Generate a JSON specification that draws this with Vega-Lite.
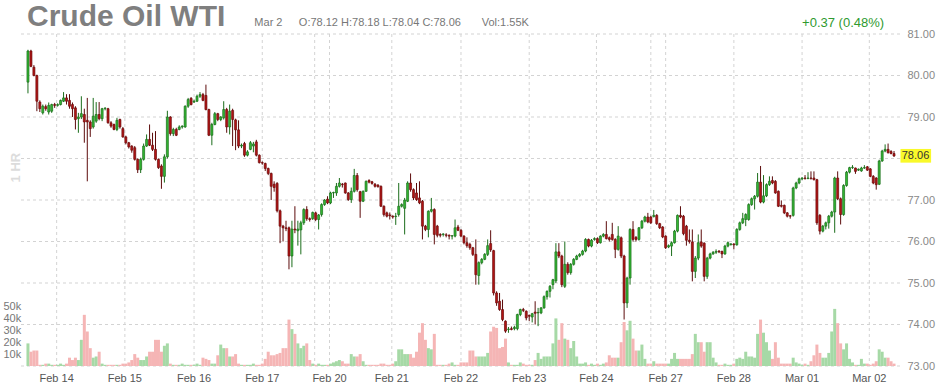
{
"$schema":"https://vega.github.io/schema/vega-lite/v6.json",
"width":880,"height":332,
"autosize":{"type":"none"},
"padding":{"left":20,"top":34,"right":38,"bottom":22},
"background":"#ffffff",
"config":{"view":{"stroke":null},"font":"Liberation Sans","axis":{"domain":false,"ticks":false,"grid":false,"title":null,"labelFont":"Liberation Sans"}},
"datasets":{
"days":[{"d":10.67,"t":"Feb 14"},{"d":33.67,"t":"Feb 15"},{"d":57,"t":"Feb 16"},{"d":80,"t":"Feb 17"},{"d":97.67,"t":""},{"d":102.67,"t":"Feb 20"},{"d":123.67,"t":"Feb 21"},{"d":147,"t":"Feb 22"},{"d":170,"t":"Feb 23"},{"d":192.67,"t":"Feb 24"},{"d":211,"t":""},{"d":216,"t":"Feb 27"},{"d":239,"t":"Feb 28"},{"d":262,"t":"Mar 01"},{"d":284.67,"t":"Mar 02"}],
"levels":[{"p":73},{"p":74},{"p":75},{"p":76},{"p":77},{"p":78},{"p":79},{"p":80},{"p":81}],
"ohlc":[
{"i":1,"o":79.84,"h":80.62,"l":79.57,"c":80.59,"v":19},
{"i":2,"o":80.59,"h":80.62,"l":80.2,"c":80.22,"v":12},
{"i":3,"o":80.2,"h":80.25,"l":79.98,"c":80.0,"v":13},
{"i":4,"o":80.0,"h":80.02,"l":79.14,"c":79.38,"v":13},
{"i":5,"o":79.36,"h":79.4,"l":79.12,"c":79.2,"v":1},
{"i":6,"o":79.1,"h":79.3,"l":79.06,"c":79.26,"v":1},
{"i":7,"o":79.25,"h":79.3,"l":79.15,"c":79.2,"v":2},
{"i":8,"o":79.12,"h":79.35,"l":79.06,"c":79.28,"v":2},
{"i":9,"o":79.14,"h":79.32,"l":79.1,"c":79.3,"v":1},
{"i":10,"o":79.3,"h":79.34,"l":79.22,"c":79.28,"v":1},
{"i":11,"o":79.28,"h":79.33,"l":79.25,"c":79.3,"v":1},
{"i":12,"o":79.3,"h":79.42,"l":79.28,"c":79.4,"v":2},
{"i":13,"o":79.38,"h":79.6,"l":79.36,"c":79.46,"v":1},
{"i":14,"o":79.46,"h":79.55,"l":79.3,"c":79.38,"v":2},
{"i":15,"o":79.4,"h":79.55,"l":79.2,"c":79.26,"v":7},
{"i":16,"o":79.3,"h":79.35,"l":79.0,"c":79.2,"v":5},
{"i":17,"o":79.22,"h":79.26,"l":78.7,"c":78.94,"v":7},
{"i":18,"o":78.96,"h":79.1,"l":78.62,"c":79.0,"v":5},
{"i":19,"o":79.0,"h":79.5,"l":78.95,"c":79.08,"v":22},
{"i":20,"o":79.06,"h":79.2,"l":78.38,"c":78.88,"v":43},
{"i":21,"o":78.92,"h":79.46,"l":77.45,"c":78.88,"v":29},
{"i":22,"o":78.88,"h":78.92,"l":78.52,"c":78.72,"v":15},
{"i":23,"o":78.76,"h":79.46,"l":78.72,"c":79.02,"v":7},
{"i":24,"o":78.9,"h":79.36,"l":78.86,"c":79.06,"v":8},
{"i":25,"o":79.06,"h":79.36,"l":78.92,"c":78.96,"v":12},
{"i":26,"o":78.96,"h":79.22,"l":78.9,"c":79.2,"v":2},
{"i":27,"o":79.2,"h":79.24,"l":79.16,"c":79.21,"v":1},
{"i":28,"o":79.2,"h":79.22,"l":78.84,"c":78.86,"v":1},
{"i":29,"o":78.86,"h":78.9,"l":78.74,"c":78.78,"v":1},
{"i":30,"o":78.82,"h":78.84,"l":78.68,"c":78.7,"v":1},
{"i":31,"o":78.7,"h":78.98,"l":78.66,"c":78.92,"v":1},
{"i":32,"o":78.94,"h":78.96,"l":78.72,"c":78.76,"v":1},
{"i":33,"o":78.72,"h":78.76,"l":78.5,"c":78.52,"v":2},
{"i":34,"o":78.52,"h":78.55,"l":78.34,"c":78.38,"v":2},
{"i":35,"o":78.38,"h":78.4,"l":78.24,"c":78.28,"v":3},
{"i":36,"o":78.3,"h":78.32,"l":78.14,"c":78.2,"v":5},
{"i":37,"o":78.26,"h":78.3,"l":77.95,"c":77.98,"v":10},
{"i":38,"o":77.98,"h":78.0,"l":77.65,"c":77.73,"v":7},
{"i":39,"o":77.73,"h":78.02,"l":77.65,"c":77.98,"v":5},
{"i":40,"o":77.98,"h":78.36,"l":77.95,"c":78.3,"v":5},
{"i":41,"o":78.3,"h":78.58,"l":78.28,"c":78.46,"v":8},
{"i":42,"o":78.46,"h":78.82,"l":78.3,"c":78.32,"v":12},
{"i":43,"o":78.32,"h":78.62,"l":78.18,"c":78.22,"v":12},
{"i":44,"o":78.22,"h":78.66,"l":77.95,"c":77.98,"v":22},
{"i":45,"o":77.98,"h":78.0,"l":77.75,"c":77.78,"v":22},
{"i":46,"o":77.82,"h":77.86,"l":77.27,"c":77.57,"v":12},
{"i":47,"o":77.57,"h":78.1,"l":77.42,"c":78.04,"v":17},
{"i":48,"o":78.04,"h":79.15,"l":78.0,"c":79.0,"v":19},
{"i":49,"o":79.0,"h":79.02,"l":78.55,"c":78.6,"v":2},
{"i":50,"o":78.6,"h":78.74,"l":78.54,"c":78.7,"v":1},
{"i":51,"o":78.7,"h":78.74,"l":78.54,"c":78.56,"v":1},
{"i":52,"o":78.7,"h":78.8,"l":78.68,"c":78.76,"v":1},
{"i":53,"o":78.76,"h":78.8,"l":78.72,"c":78.78,"v":2},
{"i":54,"o":78.76,"h":79.28,"l":78.74,"c":79.26,"v":1},
{"i":55,"o":79.26,"h":79.46,"l":79.22,"c":79.42,"v":1},
{"i":56,"o":79.45,"h":79.48,"l":79.28,"c":79.3,"v":1},
{"i":57,"o":79.36,"h":79.42,"l":79.34,"c":79.38,"v":1},
{"i":58,"o":79.38,"h":79.54,"l":79.36,"c":79.5,"v":2},
{"i":59,"o":79.5,"h":79.6,"l":79.46,"c":79.54,"v":1},
{"i":60,"o":79.54,"h":79.58,"l":79.38,"c":79.4,"v":7},
{"i":61,"o":79.52,"h":79.78,"l":79.16,"c":79.18,"v":6},
{"i":62,"o":79.18,"h":79.2,"l":78.54,"c":78.56,"v":5},
{"i":63,"o":78.56,"h":78.86,"l":78.32,"c":78.82,"v":2},
{"i":64,"o":78.82,"h":79.12,"l":78.8,"c":79.08,"v":2},
{"i":65,"o":79.08,"h":79.1,"l":78.9,"c":78.94,"v":9},
{"i":66,"o":78.94,"h":79.02,"l":78.9,"c":79.0,"v":18},
{"i":67,"o":78.98,"h":79.38,"l":78.94,"c":79.18,"v":15},
{"i":68,"o":79.18,"h":79.22,"l":78.62,"c":78.76,"v":15},
{"i":69,"o":78.76,"h":79.3,"l":78.58,"c":79.14,"v":8},
{"i":70,"o":79.16,"h":79.2,"l":78.3,"c":78.94,"v":8},
{"i":71,"o":78.93,"h":78.96,"l":78.2,"c":78.69,"v":10},
{"i":72,"o":78.69,"h":78.92,"l":78.25,"c":78.3,"v":2},
{"i":73,"o":78.3,"h":78.36,"l":78.25,"c":78.32,"v":1},
{"i":74,"o":78.36,"h":78.4,"l":78.04,"c":78.08,"v":1},
{"i":75,"o":78.08,"h":78.2,"l":78.05,"c":78.16,"v":1},
{"i":76,"o":78.22,"h":78.42,"l":78.2,"c":78.38,"v":1},
{"i":77,"o":78.3,"h":78.4,"l":78.15,"c":78.35,"v":2},
{"i":78,"o":78.4,"h":78.45,"l":78.05,"c":78.08,"v":1},
{"i":79,"o":78.08,"h":78.1,"l":77.88,"c":77.9,"v":1},
{"i":80,"o":77.9,"h":77.93,"l":77.85,"c":77.89,"v":2},
{"i":81,"o":77.88,"h":77.9,"l":77.7,"c":77.76,"v":6},
{"i":82,"o":77.76,"h":77.78,"l":77.6,"c":77.64,"v":12},
{"i":83,"o":77.64,"h":77.66,"l":77.0,"c":77.33,"v":9},
{"i":84,"o":77.38,"h":77.45,"l":77.2,"c":77.3,"v":9},
{"i":85,"o":77.4,"h":77.43,"l":76.7,"c":76.74,"v":10},
{"i":86,"o":76.74,"h":76.77,"l":75.96,"c":76.37,"v":11},
{"i":87,"o":76.37,"h":76.4,"l":76.0,"c":76.33,"v":15},
{"i":88,"o":76.33,"h":76.5,"l":76.25,"c":76.31,"v":15},
{"i":89,"o":76.33,"h":76.36,"l":75.33,"c":75.65,"v":39},
{"i":90,"o":75.65,"h":76.5,"l":75.38,"c":76.3,"v":31},
{"i":91,"o":76.3,"h":76.85,"l":76.2,"c":76.28,"v":27},
{"i":92,"o":76.26,"h":76.5,"l":75.9,"c":76.3,"v":19},
{"i":93,"o":76.28,"h":76.5,"l":75.69,"c":76.45,"v":15},
{"i":94,"o":76.45,"h":76.8,"l":76.4,"c":76.77,"v":17},
{"i":95,"o":76.77,"h":76.85,"l":76.5,"c":76.55,"v":19},
{"i":96,"o":76.55,"h":76.58,"l":76.48,"c":76.53,"v":5},
{"i":97,"o":76.55,"h":76.72,"l":76.52,"c":76.7,"v":2},
{"i":98,"o":76.69,"h":76.72,"l":76.49,"c":76.53,"v":1},
{"i":99,"o":76.53,"h":76.66,"l":76.29,"c":76.64,"v":2},
{"i":100,"o":76.65,"h":76.92,"l":76.6,"c":76.89,"v":1},
{"i":101,"o":76.89,"h":77.02,"l":76.86,"c":77.0,"v":1},
{"i":102,"o":77.02,"h":77.09,"l":76.9,"c":76.93,"v":1},
{"i":103,"o":76.93,"h":77.2,"l":76.9,"c":77.17,"v":2},
{"i":104,"o":77.17,"h":77.2,"l":77.05,"c":77.18,"v":3},
{"i":105,"o":77.17,"h":77.41,"l":77.1,"c":77.33,"v":4},
{"i":106,"o":77.33,"h":77.53,"l":77.3,"c":77.41,"v":5},
{"i":107,"o":77.38,"h":77.41,"l":77.3,"c":77.37,"v":4},
{"i":108,"o":77.41,"h":77.42,"l":77.15,"c":77.17,"v":2},
{"i":109,"o":77.17,"h":77.19,"l":76.98,"c":77.01,"v":2},
{"i":110,"o":77.01,"h":77.3,"l":76.93,"c":77.21,"v":10},
{"i":111,"o":77.21,"h":77.75,"l":77.18,"c":77.59,"v":8},
{"i":112,"o":77.59,"h":77.65,"l":77.2,"c":77.25,"v":8},
{"i":113,"o":77.2,"h":77.22,"l":76.57,"c":76.97,"v":10},
{"i":114,"o":76.97,"h":77.23,"l":76.95,"c":77.21,"v":4},
{"i":115,"o":77.21,"h":77.47,"l":77.2,"c":77.45,"v":1},
{"i":116,"o":77.47,"h":77.5,"l":77.4,"c":77.43,"v":1},
{"i":117,"o":77.44,"h":77.46,"l":77.37,"c":77.4,"v":1},
{"i":118,"o":77.38,"h":77.41,"l":77.3,"c":77.33,"v":1},
{"i":119,"o":77.36,"h":77.38,"l":77.3,"c":77.32,"v":1},
{"i":120,"o":77.33,"h":77.35,"l":76.83,"c":76.85,"v":2},
{"i":121,"o":76.85,"h":76.87,"l":76.6,"c":76.65,"v":2},
{"i":122,"o":76.69,"h":76.72,"l":76.58,"c":76.61,"v":1},
{"i":123,"o":76.64,"h":76.7,"l":76.53,"c":76.62,"v":1},
{"i":124,"o":76.61,"h":76.63,"l":76.55,"c":76.59,"v":2},
{"i":125,"o":76.6,"h":76.69,"l":76.4,"c":76.61,"v":4},
{"i":126,"o":76.65,"h":77.41,"l":76.6,"c":76.85,"v":14},
{"i":127,"o":76.85,"h":76.92,"l":76.82,"c":76.89,"v":14},
{"i":128,"o":76.8,"h":77.05,"l":76.17,"c":77.0,"v":10},
{"i":129,"o":76.97,"h":77.45,"l":76.95,"c":77.41,"v":10},
{"i":130,"o":77.41,"h":77.64,"l":77.2,"c":77.25,"v":10},
{"i":131,"o":77.25,"h":77.28,"l":77.0,"c":77.05,"v":7},
{"i":132,"o":77.17,"h":77.41,"l":76.98,"c":77.01,"v":12},
{"i":133,"o":77.05,"h":77.45,"l":76.9,"c":76.93,"v":28},
{"i":134,"o":76.97,"h":77.0,"l":76.05,"c":76.37,"v":36},
{"i":135,"o":76.37,"h":76.4,"l":76.25,"c":76.29,"v":22},
{"i":136,"o":76.29,"h":76.75,"l":76.1,"c":76.73,"v":15},
{"i":137,"o":76.73,"h":77.05,"l":76.7,"c":76.77,"v":14},
{"i":138,"o":76.77,"h":76.8,"l":75.93,"c":76.17,"v":27},
{"i":139,"o":76.37,"h":76.4,"l":76.1,"c":76.15,"v":1},
{"i":140,"o":76.17,"h":76.2,"l":76.1,"c":76.15,"v":1},
{"i":141,"o":76.17,"h":76.2,"l":76.12,"c":76.18,"v":1},
{"i":142,"o":76.16,"h":76.2,"l":76.1,"c":76.15,"v":1},
{"i":143,"o":76.15,"h":76.17,"l":76.05,"c":76.13,"v":2},
{"i":144,"o":76.13,"h":76.15,"l":76.05,"c":76.14,"v":3},
{"i":145,"o":76.13,"h":76.53,"l":76.1,"c":76.33,"v":1},
{"i":146,"o":76.35,"h":76.4,"l":76.25,"c":76.27,"v":1},
{"i":147,"o":76.27,"h":76.3,"l":76.1,"c":76.13,"v":3},
{"i":148,"o":76.13,"h":76.15,"l":75.93,"c":75.97,"v":3},
{"i":149,"o":75.97,"h":76.1,"l":75.85,"c":75.9,"v":3},
{"i":150,"o":75.93,"h":75.97,"l":75.8,"c":75.85,"v":13},
{"i":151,"o":75.85,"h":75.87,"l":75.65,"c":75.69,"v":13},
{"i":152,"o":75.69,"h":76.05,"l":74.96,"c":75.2,"v":8},
{"i":153,"o":75.18,"h":75.52,"l":74.96,"c":75.49,"v":8},
{"i":154,"o":75.49,"h":75.6,"l":75.45,"c":75.57,"v":8},
{"i":155,"o":75.57,"h":75.72,"l":75.55,"c":75.69,"v":8},
{"i":156,"o":75.69,"h":76.05,"l":75.65,"c":75.9,"v":11},
{"i":157,"o":75.95,"h":76.27,"l":75.75,"c":75.8,"v":29},
{"i":158,"o":75.78,"h":75.8,"l":74.7,"c":74.76,"v":33},
{"i":159,"o":74.76,"h":74.8,"l":74.45,"c":74.52,"v":32},
{"i":160,"o":74.56,"h":74.76,"l":74.33,"c":74.36,"v":15},
{"i":161,"o":74.36,"h":74.6,"l":74.08,"c":74.12,"v":16},
{"i":162,"o":74.08,"h":74.1,"l":73.8,"c":73.84,"v":23},
{"i":163,"o":73.88,"h":73.94,"l":73.8,"c":73.89,"v":3},
{"i":164,"o":73.9,"h":73.95,"l":73.86,"c":73.88,"v":1},
{"i":165,"o":73.9,"h":73.97,"l":73.86,"c":73.93,"v":1},
{"i":166,"o":73.9,"h":74.26,"l":73.86,"c":74.24,"v":1},
{"i":167,"o":74.24,"h":74.38,"l":74.2,"c":74.36,"v":3},
{"i":168,"o":74.36,"h":74.4,"l":74.3,"c":74.34,"v":2},
{"i":169,"o":74.32,"h":74.34,"l":74.1,"c":74.16,"v":1},
{"i":170,"o":74.22,"h":74.24,"l":74.08,"c":74.2,"v":1},
{"i":171,"o":74.18,"h":74.28,"l":74.05,"c":74.26,"v":1},
{"i":172,"o":74.3,"h":74.56,"l":74.0,"c":74.27,"v":5},
{"i":173,"o":74.28,"h":74.4,"l":73.96,"c":74.29,"v":11},
{"i":174,"o":74.28,"h":74.42,"l":74.25,"c":74.4,"v":6},
{"i":175,"o":74.4,"h":74.7,"l":74.38,"c":74.67,"v":8},
{"i":176,"o":74.67,"h":74.82,"l":74.6,"c":74.8,"v":8},
{"i":177,"o":74.8,"h":74.95,"l":74.65,"c":74.92,"v":8},
{"i":178,"o":74.96,"h":75.1,"l":74.85,"c":75.08,"v":19},
{"i":179,"o":75.05,"h":75.96,"l":75.0,"c":75.75,"v":40},
{"i":180,"o":75.75,"h":75.96,"l":75.6,"c":75.65,"v":22},
{"i":181,"o":75.65,"h":75.68,"l":74.9,"c":74.96,"v":36},
{"i":182,"o":74.92,"h":76.0,"l":74.88,"c":75.45,"v":23},
{"i":183,"o":75.45,"h":75.5,"l":75.2,"c":75.25,"v":22},
{"i":184,"o":75.25,"h":75.48,"l":75.2,"c":75.45,"v":15},
{"i":185,"o":75.45,"h":75.6,"l":75.42,"c":75.57,"v":21},
{"i":186,"o":75.57,"h":75.68,"l":75.55,"c":75.65,"v":8},
{"i":187,"o":75.65,"h":75.72,"l":75.62,"c":75.69,"v":2},
{"i":188,"o":75.69,"h":75.8,"l":75.66,"c":75.77,"v":2},
{"i":189,"o":75.77,"h":76.08,"l":75.74,"c":76.05,"v":3},
{"i":190,"o":76.05,"h":76.07,"l":75.86,"c":75.89,"v":1},
{"i":191,"o":75.89,"h":76.06,"l":75.86,"c":76.03,"v":2},
{"i":192,"o":76.05,"h":76.1,"l":76.02,"c":76.07,"v":1},
{"i":193,"o":76.07,"h":76.1,"l":75.94,"c":75.97,"v":2},
{"i":194,"o":75.97,"h":76.15,"l":75.95,"c":76.13,"v":1},
{"i":195,"o":76.13,"h":76.2,"l":76.1,"c":76.17,"v":2},
{"i":196,"o":76.17,"h":76.49,"l":76.05,"c":76.07,"v":3},
{"i":197,"o":76.09,"h":76.12,"l":76.0,"c":76.05,"v":9},
{"i":198,"o":76.17,"h":76.45,"l":76.02,"c":76.05,"v":7},
{"i":199,"o":76.05,"h":76.08,"l":75.6,"c":75.81,"v":7},
{"i":200,"o":75.81,"h":76.37,"l":75.78,"c":76.13,"v":7},
{"i":201,"o":76.09,"h":76.12,"l":75.6,"c":75.65,"v":20},
{"i":202,"o":75.65,"h":75.68,"l":74.12,"c":74.52,"v":37},
{"i":203,"o":74.52,"h":75.15,"l":74.4,"c":75.12,"v":30},
{"i":204,"o":75.12,"h":76.32,"l":74.96,"c":76.29,"v":38},
{"i":205,"o":76.29,"h":76.49,"l":76.0,"c":76.05,"v":23},
{"i":206,"o":76.1,"h":76.13,"l":76.0,"c":76.05,"v":13},
{"i":207,"o":76.05,"h":76.35,"l":76.02,"c":76.33,"v":13},
{"i":208,"o":76.33,"h":76.52,"l":76.3,"c":76.49,"v":18},
{"i":209,"o":76.49,"h":76.62,"l":76.46,"c":76.59,"v":6},
{"i":210,"o":76.59,"h":76.69,"l":76.44,"c":76.47,"v":2},
{"i":211,"o":76.59,"h":76.62,"l":76.42,"c":76.45,"v":2},
{"i":212,"o":76.6,"h":76.76,"l":76.58,"c":76.63,"v":4},
{"i":213,"o":76.63,"h":76.66,"l":76.4,"c":76.43,"v":2},
{"i":214,"o":76.43,"h":76.45,"l":76.3,"c":76.33,"v":2},
{"i":215,"o":76.35,"h":76.37,"l":76.08,"c":76.11,"v":2},
{"i":216,"o":76.13,"h":76.15,"l":75.82,"c":75.85,"v":2},
{"i":217,"o":75.87,"h":75.93,"l":75.84,"c":75.9,"v":2},
{"i":218,"o":75.89,"h":76.0,"l":75.65,"c":75.97,"v":6},
{"i":219,"o":75.97,"h":76.28,"l":75.95,"c":76.25,"v":11},
{"i":220,"o":76.25,"h":76.65,"l":76.22,"c":76.63,"v":6},
{"i":221,"o":76.63,"h":76.85,"l":76.56,"c":76.59,"v":6},
{"i":222,"o":76.61,"h":76.64,"l":76.15,"c":76.19,"v":6},
{"i":223,"o":76.37,"h":76.4,"l":75.9,"c":76.03,"v":6},
{"i":224,"o":76.03,"h":76.29,"l":75.95,"c":76.0,"v":6},
{"i":225,"o":75.99,"h":76.29,"l":75.04,"c":75.28,"v":10},
{"i":226,"o":75.28,"h":75.65,"l":75.12,"c":75.6,"v":27},
{"i":227,"o":75.6,"h":76.17,"l":75.55,"c":75.97,"v":20},
{"i":228,"o":75.99,"h":76.29,"l":75.85,"c":75.89,"v":20},
{"i":229,"o":75.96,"h":75.98,"l":75.04,"c":75.16,"v":12},
{"i":230,"o":75.16,"h":75.63,"l":75.1,"c":75.6,"v":20},
{"i":231,"o":75.6,"h":75.73,"l":75.57,"c":75.7,"v":20},
{"i":232,"o":75.7,"h":75.77,"l":75.68,"c":75.74,"v":7},
{"i":233,"o":75.74,"h":75.81,"l":75.7,"c":75.76,"v":3},
{"i":234,"o":75.77,"h":75.79,"l":75.72,"c":75.75,"v":1},
{"i":235,"o":75.76,"h":75.78,"l":75.6,"c":75.7,"v":1},
{"i":236,"o":75.7,"h":75.92,"l":75.68,"c":75.89,"v":2},
{"i":237,"o":75.89,"h":76.0,"l":75.86,"c":75.97,"v":1},
{"i":238,"o":75.93,"h":75.96,"l":75.9,"c":75.94,"v":1},
{"i":239,"o":75.94,"h":75.96,"l":75.81,"c":75.92,"v":2},
{"i":240,"o":75.92,"h":76.32,"l":75.9,"c":76.29,"v":6},
{"i":241,"o":76.29,"h":76.48,"l":76.26,"c":76.45,"v":7},
{"i":242,"o":76.45,"h":76.69,"l":76.42,"c":76.55,"v":6},
{"i":243,"o":76.53,"h":76.68,"l":76.37,"c":76.65,"v":12},
{"i":244,"o":76.53,"h":76.92,"l":76.5,"c":76.89,"v":8},
{"i":245,"o":76.89,"h":77.06,"l":76.86,"c":77.03,"v":8},
{"i":246,"o":77.03,"h":77.12,"l":76.77,"c":77.09,"v":7},
{"i":247,"o":77.09,"h":77.65,"l":77.06,"c":77.43,"v":27},
{"i":248,"o":77.43,"h":77.82,"l":76.92,"c":76.95,"v":39},
{"i":249,"o":76.95,"h":77.6,"l":76.92,"c":77.1,"v":28},
{"i":250,"o":77.1,"h":77.4,"l":77.07,"c":77.37,"v":20},
{"i":251,"o":77.37,"h":77.57,"l":77.34,"c":77.45,"v":13},
{"i":252,"o":77.47,"h":77.57,"l":77.38,"c":77.41,"v":6},
{"i":253,"o":77.45,"h":77.48,"l":77.15,"c":77.17,"v":20},
{"i":254,"o":77.21,"h":77.23,"l":76.83,"c":76.85,"v":7},
{"i":255,"o":76.87,"h":76.99,"l":76.82,"c":76.85,"v":2},
{"i":256,"o":76.87,"h":76.89,"l":76.66,"c":76.69,"v":2},
{"i":257,"o":76.69,"h":76.71,"l":76.58,"c":76.61,"v":2},
{"i":258,"o":76.62,"h":76.64,"l":76.55,"c":76.61,"v":2},
{"i":259,"o":76.63,"h":77.32,"l":76.6,"c":77.29,"v":7},
{"i":260,"o":77.29,"h":77.44,"l":77.26,"c":77.41,"v":3},
{"i":261,"o":77.41,"h":77.54,"l":77.38,"c":77.51,"v":2},
{"i":262,"o":77.51,"h":77.55,"l":77.48,"c":77.53,"v":1},
{"i":263,"o":77.53,"h":77.6,"l":77.49,"c":77.52,"v":2},
{"i":264,"o":77.52,"h":77.67,"l":77.5,"c":77.53,"v":1},
{"i":265,"o":77.53,"h":77.69,"l":77.49,"c":77.52,"v":4},
{"i":266,"o":77.53,"h":77.69,"l":77.47,"c":77.49,"v":9},
{"i":267,"o":77.49,"h":77.51,"l":76.4,"c":76.45,"v":18},
{"i":268,"o":76.63,"h":76.66,"l":76.17,"c":76.25,"v":11},
{"i":269,"o":76.25,"h":76.4,"l":76.22,"c":76.37,"v":7},
{"i":270,"o":76.37,"h":76.48,"l":76.29,"c":76.45,"v":7},
{"i":271,"o":76.45,"h":76.64,"l":76.31,"c":76.61,"v":11},
{"i":272,"o":76.61,"h":76.74,"l":76.58,"c":76.71,"v":29},
{"i":273,"o":76.71,"h":77.56,"l":76.21,"c":77.53,"v":48},
{"i":274,"o":77.53,"h":77.69,"l":77.0,"c":77.03,"v":36},
{"i":275,"o":77.03,"h":77.06,"l":76.41,"c":76.65,"v":19},
{"i":276,"o":76.65,"h":77.38,"l":76.62,"c":77.35,"v":14},
{"i":277,"o":77.35,"h":77.7,"l":77.32,"c":77.67,"v":19},
{"i":278,"o":77.67,"h":77.8,"l":77.64,"c":77.78,"v":6},
{"i":279,"o":77.78,"h":77.84,"l":77.75,"c":77.79,"v":3},
{"i":280,"o":77.77,"h":77.78,"l":77.63,"c":77.69,"v":1},
{"i":281,"o":77.72,"h":77.76,"l":77.7,"c":77.74,"v":1},
{"i":282,"o":77.7,"h":77.8,"l":77.68,"c":77.77,"v":6},
{"i":283,"o":77.77,"h":77.84,"l":77.75,"c":77.78,"v":2},
{"i":284,"o":77.8,"h":77.82,"l":77.7,"c":77.72,"v":2},
{"i":285,"o":77.75,"h":77.77,"l":77.55,"c":77.57,"v":1},
{"i":286,"o":77.57,"h":77.6,"l":77.38,"c":77.41,"v":2},
{"i":287,"o":77.53,"h":77.55,"l":77.25,"c":77.37,"v":4},
{"i":288,"o":77.38,"h":77.97,"l":77.36,"c":77.94,"v":14},
{"i":289,"o":77.94,"h":78.21,"l":77.92,"c":78.18,"v":12},
{"i":290,"o":78.18,"h":78.34,"l":78.15,"c":78.22,"v":7},
{"i":291,"o":78.22,"h":78.36,"l":78.12,"c":78.14,"v":7},
{"i":292,"o":78.17,"h":78.2,"l":78.1,"c":78.12,"v":4},
{"i":293,"o":78.12,"h":78.18,"l":78.04,"c":78.06,"v":2}
]},
"layer":[
{"data":{"name":"days"},
 "mark":{"type":"rule","color":"#d3d3d3","strokeWidth":1,"strokeDash":[3,3]},
 "encoding":{
  "x":{"field":"d","type":"quantitative","scale":{"domain":[0,293.33],"nice":false,"zero":false},"axis":null}
 }},
{"data":{"name":"levels"},
 "mark":{"type":"rule","color":"#d3d3d3","strokeWidth":1,"strokeDash":[3,3]},
 "encoding":{
  "y":{"field":"p","type":"quantitative","scale":{"domain":[73,81],"nice":false,"zero":false},
   "axis":{"orient":"right","values":[73,74,75,76,77,79,80,81],"format":".2f","labelAlign":"left","labelPadding":7,"labelFontSize":11,"labelColor":"#888888","labelBaseline":"middle"}}
 }},
{"data":{"name":"ohlc"},
 "mark":{"type":"bar","width":3},
 "encoding":{
  "x":{"field":"i","type":"quantitative","scale":{"domain":[0,293.33],"nice":false,"zero":false},"axis":null},
  "y":{"field":"v","type":"quantitative","scale":{"domain":[0,279],"nice":false},
   "axis":{"orient":"left","values":[10,20,30,40,50],"labelExpr":"datum.value + 'k'","labelAlign":"left","labelPadding":17,"labelFontSize":11,"labelColor":"#777777","labelOverlap":false}},
  "color":{"condition":{"test":"datum.c >= datum.o","value":"#a6d9a6"},"value":"#f5b5b5"}
 }},
{"data":{"name":"ohlc"},
 "layer":[
 {"mark":{"type":"rule","strokeWidth":1},
  "encoding":{
   "x":{"field":"i","type":"quantitative","scale":{"domain":[0,293.33],"nice":false,"zero":false},"axis":null},
   "y":{"field":"l","type":"quantitative","scale":{"domain":[73,81],"nice":false,"zero":false},"axis":null},
   "y2":{"field":"h"},
   "color":{"condition":{"test":"datum.c >= datum.o","value":"#1b6d1b"},"value":"#5c0b0b"}
  }},
 {"mark":{"type":"bar","width":2,"strokeWidth":0.7},
  "encoding":{
   "x":{"field":"i","type":"quantitative","scale":{"domain":[0,293.33],"nice":false,"zero":false},"axis":null},
   "y":{"field":"o","type":"quantitative","scale":{"domain":[73,81],"nice":false,"zero":false},"axis":null},
   "y2":{"field":"c"},
   "fill":{"condition":{"test":"datum.c >= datum.o","value":"#33b833"},"value":"#b31414"},
   "stroke":{"condition":{"test":"datum.c >= datum.o","value":"#1b6d1b"},"value":"#6b0b0b"}
  }},
 {"data":{"name":"days"},
  "mark":{"type":"text","align":"center","baseline":"alphabetic","fontSize":11,"color":"#555555"},
  "encoding":{"text":{"field":"t"},
   "x":{"field":"d","type":"quantitative","scale":{"domain":[0,293.33],"nice":false,"zero":false},"axis":null},
   "y":{"datum":72.61,"type":"quantitative","scale":{"domain":[73,81],"nice":false,"zero":false},"axis":null}}},
 {"data":{"values":[{"t":"Crude Oil WTI"}]},
  "mark":{"type":"text","align":"left","baseline":"alphabetic","fontSize":30,"fontWeight":"bold","color":"#7f7f7f"},
  "encoding":{"text":{"field":"t"},
   "x":{"datum":0.67,"type":"quantitative","scale":{"domain":[0,293.33],"nice":false,"zero":false},"axis":null},
   "y":{"datum":81.19,"type":"quantitative","scale":{"domain":[73,81],"nice":false,"zero":false},"axis":null}}},
 {"data":{"values":[{"t":"Mar 2"}]},
  "mark":{"type":"text","align":"left","baseline":"alphabetic","fontSize":11,"color":"#777777"},
  "encoding":{"text":{"field":"t"},
   "x":{"datum":77.33,"type":"quantitative","scale":{"domain":[0,293.33],"nice":false,"zero":false},"axis":null},
   "y":{"datum":81.19,"type":"quantitative","scale":{"domain":[73,81],"nice":false,"zero":false},"axis":null}}},
 {"data":{"values":[{"t":"O:78.12 H:78.18 L:78.04 C:78.06"}]},
  "mark":{"type":"text","align":"left","baseline":"alphabetic","fontSize":11,"color":"#777777"},
  "encoding":{"text":{"field":"t"},
   "x":{"datum":92.33,"type":"quantitative","scale":{"domain":[0,293.33],"nice":false,"zero":false},"axis":null},
   "y":{"datum":81.19,"type":"quantitative","scale":{"domain":[73,81],"nice":false,"zero":false},"axis":null}}},
 {"data":{"values":[{"t":"Vol:1.55K"}]},
  "mark":{"type":"text","align":"left","baseline":"alphabetic","fontSize":11,"color":"#777777"},
  "encoding":{"text":{"field":"t"},
   "x":{"datum":154,"type":"quantitative","scale":{"domain":[0,293.33],"nice":false,"zero":false},"axis":null},
   "y":{"datum":81.19,"type":"quantitative","scale":{"domain":[73,81],"nice":false,"zero":false},"axis":null}}},
 {"data":{"values":[{"t":"+0.37 (0.48%)"}]},
  "mark":{"type":"text","align":"right","baseline":"alphabetic","fontSize":13,"color":"#2f9a2f"},
  "encoding":{"text":{"field":"t"},
   "x":{"datum":289.67,"type":"quantitative","scale":{"domain":[0,293.33],"nice":false,"zero":false},"axis":null},
   "y":{"datum":81.18,"type":"quantitative","scale":{"domain":[73,81],"nice":false,"zero":false},"axis":null}}},
 {"data":{"values":[{"t":"1 HR"}]},
  "mark":{"type":"text","align":"center","baseline":"middle","fontSize":13,"fontWeight":"bold","color":"#dcdcdc","angle":270},
  "encoding":{"text":{"field":"t"},
   "x":{"datum":-3,"type":"quantitative","scale":{"domain":[0,293.33],"nice":false,"zero":false},"axis":null},
   "y":{"datum":77.78,"type":"quantitative","scale":{"domain":[73,81],"nice":false,"zero":false},"axis":null}}},
 {"data":{"values":[{"t":"78.06"}]},
  "mark":{"type":"rect","fill":"#f9f92a"},
  "encoding":{
   "x":{"datum":295.17,"type":"quantitative","scale":{"domain":[0,293.33],"nice":false,"zero":false},"axis":null},
   "x2":{"datum":305.5},
   "y":{"datum":78.23,"type":"quantitative","scale":{"domain":[73,81],"nice":false,"zero":false},"axis":null},
   "y2":{"datum":77.9}}},
 {"data":{"values":[{"t":"78.06"}]},
  "mark":{"type":"text","align":"left","baseline":"middle","fontSize":11,"color":"#333333"},
  "encoding":{"text":{"field":"t"},
   "x":{"datum":295.6,"type":"quantitative","scale":{"domain":[0,293.33],"nice":false,"zero":false},"axis":null},
   "y":{"datum":78.065,"type":"quantitative","scale":{"domain":[73,81],"nice":false,"zero":false},"axis":null}}}
]}
],
"resolve":{"scale":{"y":"independent"}}
}
